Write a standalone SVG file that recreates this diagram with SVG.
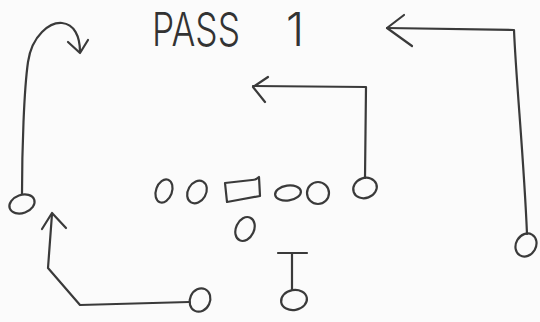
<svg xmlns="http://www.w3.org/2000/svg" width="540" height="322" viewBox="0 0 540 322">
<style>
.ink{fill:none;stroke:#3a3a3a;stroke-width:2.2;stroke-linecap:round;stroke-linejoin:round}
.title{font-family:Inter,Lato,"Open Sans","Liberation Sans",sans-serif;font-weight:300;font-size:46px;fill:#333}
</style>
<rect width="540" height="322" fill="#fbfbfb"/>
<text class="title" x="152" y="46"><tspan textLength="88" lengthAdjust="spacingAndGlyphs">PASS</tspan> <tspan x="286">1</tspan></text>
<g id="connectors">
  <path class="ink" d="M22,194 C22,150 24,90 28,62 C32,35 50,22 62,23 C74,24 80,36 80,52"/>
  <path class="ink" d="M68,42 L80,53 L88,40"/>
  <path class="ink" d="M189,302 L80,305 L48,268 L52,214"/>
  <path class="ink" d="M42,229 L52,213 L66,228"/>
  <path class="ink" d="M365,178 L366,87 L253,86"/>
  <path class="ink" d="M268,77 L253,87 L265,102"/>
  <path class="ink" d="M527,234 C524,160 516,80 514,30 L387,28"/>
  <path class="ink" d="M404,15 L387,28 L412,46"/>
  <path class="ink" d="M278,253 L307,253 M292,253 L292,290"/>
</g>
<g id="n-lt"><ellipse class="ink" cx="22" cy="204" rx="13" ry="9" transform="rotate(-20 22 204)"/></g>
<g id="n-lb"><ellipse class="ink" cx="200" cy="300" rx="10" ry="12" transform="rotate(25 200 300)"/></g>
<g id="n-l1"><ellipse class="ink" cx="164" cy="191" rx="8" ry="12" transform="rotate(20 164 191)"/></g>
<g id="n-l2"><ellipse class="ink" cx="197" cy="192" rx="9" ry="12" transform="rotate(30 197 192)"/></g>
<g id="n-c"><path class="ink" d="M225,183 L252,180 C256,180 258,178 259,177 L260,196 L227,202 Z"/></g>
<g id="n-l4"><ellipse class="ink" cx="288" cy="193" rx="13" ry="7.5" transform="rotate(-8 288 193)"/></g>
<g id="n-l5"><ellipse class="ink" cx="318" cy="193" rx="11" ry="11"/></g>
<g id="n-te"><ellipse class="ink" cx="365" cy="188" rx="12" ry="10" transform="rotate(-20 365 188)"/></g>
<g id="n-qb"><ellipse class="ink" cx="245" cy="229" rx="9" ry="12.5" transform="rotate(25 245 229)"/></g>
<g id="n-rb"><ellipse class="ink" cx="294" cy="300" rx="13" ry="10" transform="rotate(-10 294 300)"/></g>
<g id="n-rt"><ellipse class="ink" cx="526" cy="245" rx="10" ry="12" transform="rotate(30 526 245)"/></g>
</svg>
